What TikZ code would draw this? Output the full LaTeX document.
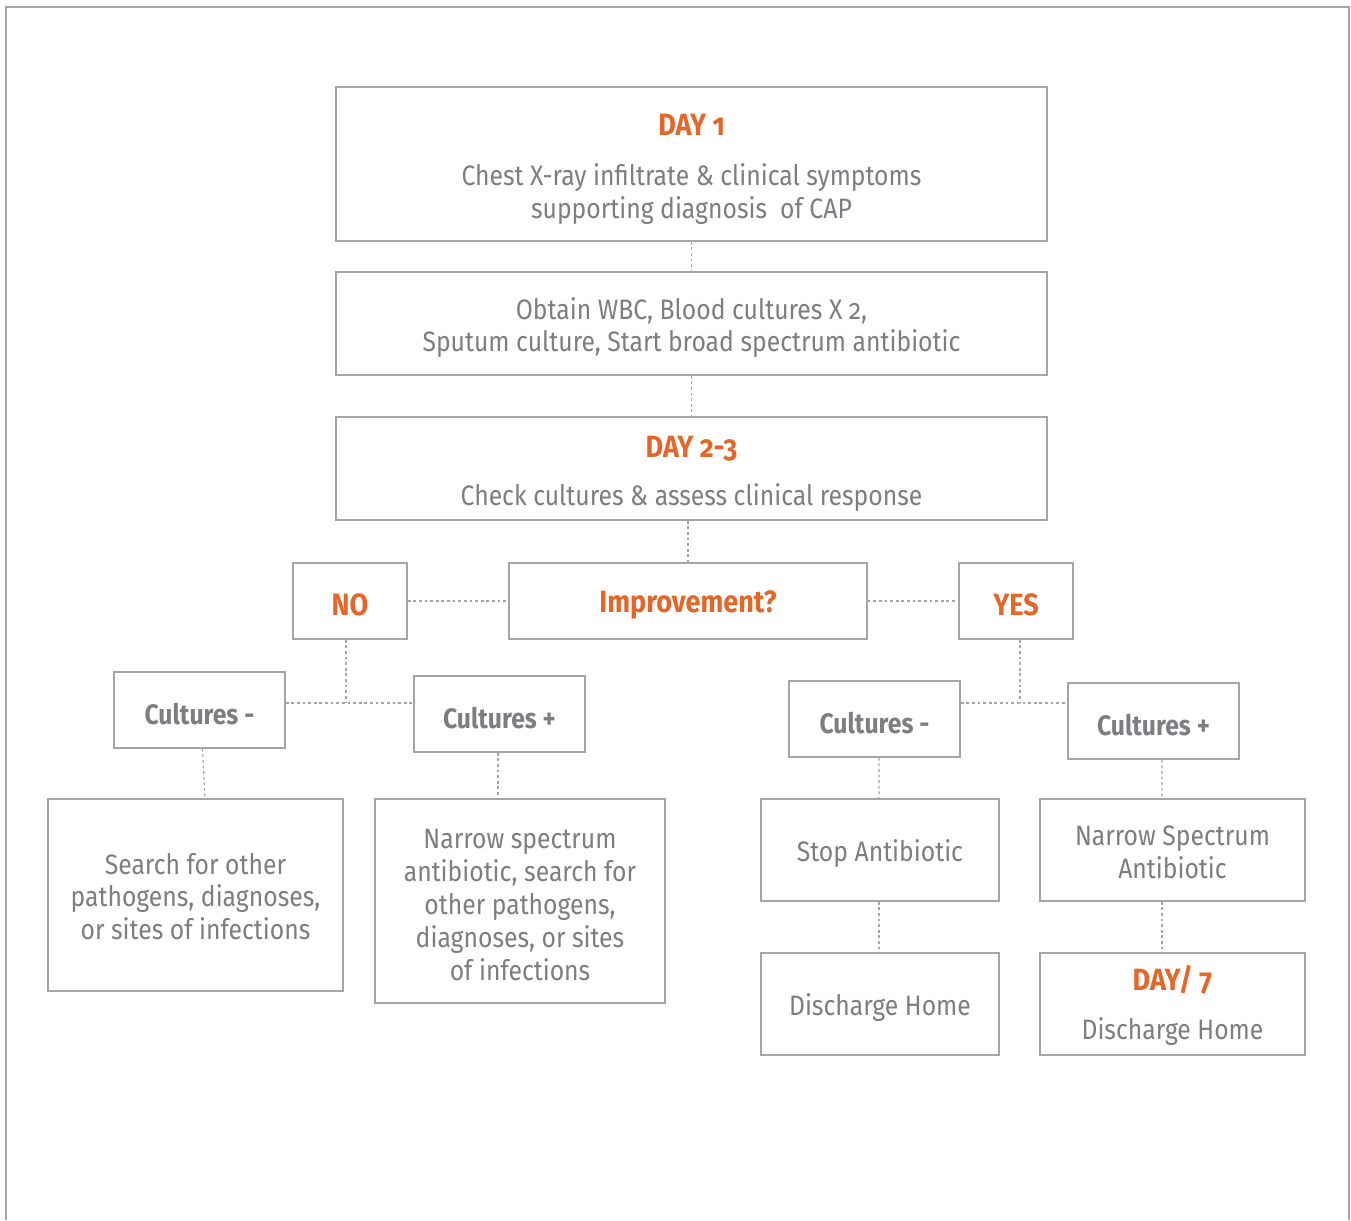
\documentclass[tikz,border=0pt]{standalone}
\usepackage{fontspec}
\setmainfont{Fira Sans}[Numbers=OldStyle,FakeStretch=0.88]
\usepackage{tikz}
\usetikzlibrary{positioning,calc}
\definecolor{linegray}{RGB}{165,165,165}
\definecolor{textgray}{RGB}{125,125,130}
\definecolor{dayorange}{RGB}{228,102,40}
\tikzset{
  box/.style={
    draw=linegray,
    line width=0.8pt,
    align=center,
    fill=white,
    inner sep=4pt,
    text=textgray,
    font=\fontsize{16}{18.7}\selectfont,
    execute at begin node={\rule{0pt}{17pt}}
  },
  link/.style={draw=linegray, line width=0.7pt, dash pattern=on 1.6pt off 1.6pt}
}
\newcommand{\daytitle}[1]{\textcolor{dayorange}{\fontsize{17.5}{20}\selectfont\bfseries #1}}
\newcommand{\topgap}[1]{\rule{0pt}{#1}}

\begin{document}
\begin{tikzpicture}[x=0.02cm, y=-0.02cm]
    \useasboundingbox (0,0) rectangle (1351,1220);
    \draw[linegray, line width=1.1pt] (6,1220) -- (6,7) -- (1349,7) -- (1349,1220);

    \node[box, minimum width=14.22cm, minimum height=3.08cm] (day1) at (691.5,164) {\topgap{18pt}\daytitle{DAY 1}\\[10pt]Chest X-ray infiltrate \& clinical symptoms\\supporting diagnosis\ \ of CAP};
    \node[box, minimum width=14.22cm, minimum height=2.06cm] (obtain) at (691.5,323.5) {\topgap{17pt}Obtain WBC, Blood cultures X 2,\\Sputum culture, Start broad spectrum antibiotic};
    \node[box, minimum width=14.22cm, minimum height=2.06cm] (day23) at (691.5,468.5) {\topgap{18pt}\daytitle{DAY 2-3}\\[8.5pt]Check cultures \& assess clinical response};
    \node[box, minimum width=7.16cm, minimum height=1.52cm] (improve) at (688,601) {\daytitle{Improvement?}};
    \node[box, minimum width=2.28cm, minimum height=1.52cm] (no) at (350,601) {\daytitle{NO}};
    \node[box, minimum width=2.28cm, minimum height=1.52cm] (yes) at (1016,601) {\daytitle{YES}};

    \node[box, minimum width=3.42cm, minimum height=1.52cm] (negL) at (199.5,710) {\textbf{Cultures -}};
    \node[box, minimum width=3.42cm, minimum height=1.52cm] (posL) at (499.5,714) {\textbf{Cultures +}};
    \node[box, minimum width=3.42cm, minimum height=1.52cm] (negR) at (874.5,719) {\textbf{Cultures -}};
    \node[box, minimum width=3.42cm, minimum height=1.52cm] (posR) at (1153.5,721) {\textbf{Cultures +}};

    \node[box, minimum width=5.9cm, minimum height=3.84cm] (search) at (195.5,895) {\topgap{13.7pt}Search for other\\pathogens, diagnoses,\\or sites of infections};
    \node[box, minimum width=5.8cm, minimum height=4.08cm] (narrowL) at (520,901) {\topgap{15.4pt}Narrow spectrum\\antibiotic, search for\\other pathogens,\\diagnoses, or sites\\of infections};
    \node[box, minimum width=4.76cm, minimum height=2.04cm] (stop) at (880,850) {Stop Antibiotic};
    \node[box, minimum width=5.3cm, minimum height=2.04cm] (narrowR) at (1172.5,850) {\topgap{14.3pt}Narrow Spectrum\\Antibiotic};
    \node[box, minimum width=4.76cm, minimum height=2.04cm] (homeL) at (880,1004) {Discharge Home};
    \node[box, minimum width=5.3cm, minimum height=2.04cm] (homeR) at (1172.5,1004) {\topgap{16pt}\daytitle{DAY/ 7}\\[9pt]Discharge Home};

    % junctions under NO and YES
    \coordinate (jL) at (346,703);
    \coordinate (jR) at (1020,703);

    \draw[link] (day1.south) -- (obtain.north);
    \draw[link] (obtain.south) -- (day23.north);
    \draw[link] (day23.south -| improve.north) -- (improve.north);
    \draw[link] (no.east) -- (improve.west);
    \draw[link] (improve.east) -- (yes.west);
    \draw[link] (no.south -| jL) -- (jL);
    \draw[link] (negL.east |- jL) -- (posL.west |- jL);
    \draw[link] (yes.south -| jR) -- (jR);
    \draw[link] (negR.east |- jR) -- (posR.west |- jR);
    \draw[link] ($(negL.south)+(3,0)$) -- ($(search.north)+(9.5,0)$);
    \draw[link] ($(posL.south)+(-1.5,0)$) -- ($(narrowL.north)+(-22,0)$);
    \draw[link] ($(negR.south)+(4.5,0)$) -- ($(stop.north)+(-1,0)$);
    \draw[link] ($(posR.south)+(8.5,0)$) -- ($(narrowR.north)+(-10.5,0)$);
    \draw[link] ($(stop.south)+(-1,0)$) -- ($(homeL.north)+(-1,0)$);
    \draw[link] ($(narrowR.south)+(-10.5,0)$) -- ($(homeR.north)+(-10.5,0)$);
\end{tikzpicture}
\end{document}
